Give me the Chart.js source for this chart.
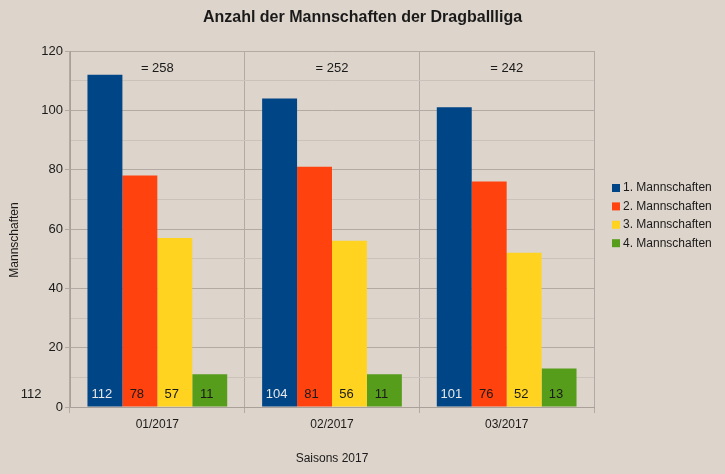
<!DOCTYPE html>
<html>
<head>
<meta charset="utf-8">
<script src="https://cdn.jsdelivr.net/npm/chart.js@4/dist/chart.umd.min.js"></script>
<style>
  body { margin: 0; background: #ddd4cb; }
  canvas { display: block; }
</style>
</head>
<body>
<canvas id="chart-teams" width="725" height="474"></canvas>
<script>
(function() {
    "use strict";

    var seasons = ['01/2017', '02/2017', '03/2017']
    var teams1 = [112, 104, 101]
    var teams2 = [78, 81, 76]
    var teams3 = [57, 56, 52]
    var teams4 = [11, 11, 13]
    var seriesNames = ['1. Mannschaften', '2. Mannschaften', '3. Mannschaften', '4. Mannschaften']
    var seriesColors = ['#004586', '#ff420e', '#ffd320', '#579d1c']
    var labelColors = ['#e8e8e8', '#1a1a1a', '#1a1a1a', '#1a1a1a']
    var chartTitle = 'Anzahl der Mannschaften der Dragballliga'
    var yTitle = 'Mannschaften'
    var strayLabel = '112'

    var font = "'Liberation Sans', Arial, sans-serif"
    var allSeries = [teams1, teams2, teams3, teams4]

    var barData = {
        labels: seasons,
        datasets: allSeries.map(function(d, i) {
            return {
                label: seriesNames[i],
                data: d,
                backgroundColor: seriesColors[i],
                borderWidth: 0
            }
        })
    }

    // title, labels in bars, totals, legend, stray label
    var extras = {
        id: 'extras',
        afterDatasetsDraw: function(chart) {
            var ctx = chart.ctx
            var area = chart.chartArea
            ctx.save()
            ctx.textBaseline = 'middle'
            ctx.textAlign = 'center'

            ctx.fillStyle = '#1a1a1a'
            ctx.font = 'bold 16px ' + font
            ctx.fillText(chartTitle, chart.width / 2, 18)

            ctx.save()
            ctx.font = '12px ' + font
            ctx.translate(15, 240)
            ctx.rotate(-Math.PI / 2)
            ctx.fillText(yTitle, 0, 0)
            ctx.restore()

            ctx.font = '13px ' + font
            chart.data.datasets.forEach(function(ds, i) {
                var meta = chart.getDatasetMeta(i)
                meta.data.forEach(function(bar, j) {
                    ctx.fillStyle = labelColors[i]
                    ctx.fillText(String(ds.data[j]), bar.x - 3, area.bottom - 13)
                })
            })
            ctx.fillStyle = '#1a1a1a'
            var xs = chart.scales.x
            seasons.forEach(function(s, j) {
                var sum = 0
                allSeries.forEach(function(d) { sum += d[j] })
                ctx.fillText('= ' + sum, xs.getPixelForValue(j), area.top + 17)
            })
            ctx.fillText(strayLabel, 31, area.bottom - 13)

            // legend
            ctx.textAlign = 'left'
            ctx.font = '12px ' + font
            seriesNames.forEach(function(name, i) {
                var y = 188 + i * 18.4
                ctx.fillStyle = seriesColors[i]
                ctx.fillRect(612, y - 4, 8, 8)
                ctx.fillStyle = '#1a1a1a'
                ctx.fillText(name, 623, y)
            })
            ctx.restore()
        }
    }

    var canvas = document.getElementById('chart-teams').getContext('2d')

    new Chart(canvas, {
        type: 'bar',
        data: barData,
        plugins: [extras],
        options: {
            responsive: false,
            animation: false,
            devicePixelRatio: 1,
            layout: { padding: { left: 4, right: 131, top: 51, bottom: 4 } },
            datasets: { bar: { categoryPercentage: 0.8, barPercentage: 1.0 } },
            plugins: {
                legend: { display: false },
                tooltip: { enabled: false },
                title: { display: false }
            },
            scales: {
                x: {
                    grid: {
                        offset: true,
                        color: '#b3aba3',
                        tickColor: '#b3aba3',
                        tickLength: 6
                    },
                    border: { color: '#a9a199' },
                    ticks: { color: '#1a1a1a', font: { family: font, size: 12 }, padding: 4 },
                    title: {
                        display: true,
                        text: 'Saisons 2017',
                        color: '#1a1a1a',
                        font: { family: font, size: 12 },
                        padding: { top: 14, bottom: 4 }
                    },
                    afterFit: function(scale) { scale.height = 63 }
                },
                y: {
                    min: 0,
                    max: 120,
                    grid: {
                        color: function(c) { return c.tick && c.tick.value % 20 === 0 ? '#b3aba3' : '#cbc3bb' },
                        tickColor: function(c) { return c.tick && c.tick.value % 20 === 0 ? '#b3aba3' : 'rgba(0,0,0,0)' },
                        tickLength: 5
                    },
                    border: { color: '#a9a199' },
                    ticks: {
                        stepSize: 10,
                        color: '#1a1a1a',
                        font: { family: font, size: 13 },
                        padding: 2,
                        callback: function(v) { return v % 20 === 0 ? v : '' }
                    },
                    afterFit: function(scale) { scale.width = 66 }
                }
            }
        }
    })
})();
</script>
</body>
</html>
